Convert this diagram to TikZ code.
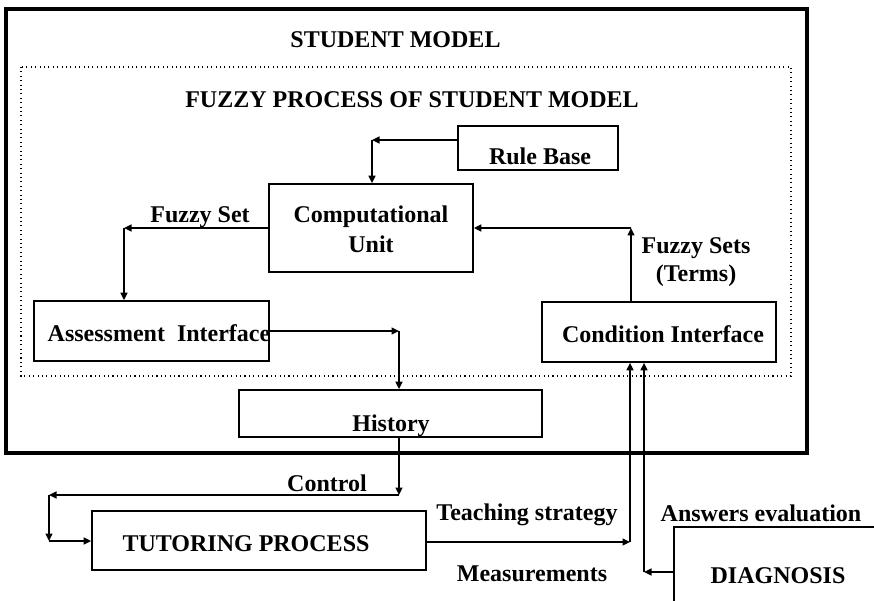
\documentclass[tikz,border=0pt]{standalone}
\usepackage{fontspec}
\setmainfont{Liberation Serif}
\usetikzlibrary{arrows.meta}
\begin{document}
\begin{tikzpicture}[x=1pt,y=-1pt,
  box/.style={draw, line width=1.8pt, inner sep=0pt},
  frame/.style={draw, line width=3.5pt},
  dotbox/.style={draw, line width=1.1pt, dash pattern=on 1.1pt off 3.3pt},
  lbl/.style={font=\fontsize{24}{28}\selectfont\bfseries, inner sep=0pt, anchor=base, align=center},
  arr/.style={line width=1.5pt, -{Triangle[length=7.5pt,width=7pt]}},
  ln/.style={line width=1.8pt}]
\useasboundingbox (0,0) rectangle (874,601);

% outer student model frame and the dotted fuzzy process region
\draw[frame] (6,9) rectangle (807,453);
\draw[dotbox] (21,67) rectangle (791,376);

% boxes
\node[box, minimum width=160pt, minimum height=44pt] (rb) at (538,148) {};
\node[box, minimum width=204pt, minimum height=88pt] (cu) at (371,228) {};
\node[box, minimum width=235pt, minimum height=60pt] (ai) at (151.5,331) {};
\node[box, minimum width=234pt, minimum height=60pt] (ci) at (659,332) {};
\node[box, minimum width=303pt, minimum height=47pt] (hi) at (390.5,413.5) {};
\node[box, minimum width=334pt, minimum height=59pt] (tp) at (259,540.5) {};
\coordinate (dgtl) at (674,527);
\draw[ln] (674,601) -- (dgtl) -- (874,527);

% texts
\node[lbl] (tsm) at (395.5,48) {STUDENT MODEL};
\node[lbl] (tfp) at (412,108) {FUZZY PROCESS OF STUDENT MODEL};
\node[lbl] (trb) at (540,165) {Rule Base};
\node[lbl] (tcu) at (371,253) {Computational\\[2pt]Unit};
\node[lbl] (tai) at (159,341) {Assessment\ \ Interface};
\node[lbl] (tci) at (663,342) {Condition Interface};
\node[lbl] (thi) at (391,431) {History};
\node[lbl] (ttp) at (246,551) {TUTORING PROCESS};
\node[lbl] (tdg) at (778,583) {DIAGNOSIS};
\node[lbl] (lfs) at (200,223) {Fuzzy Set};
\node[lbl] (lft) at (696,281) {Fuzzy Sets\\(Terms)};
\node[lbl] (lco) at (327,491) {Control};
\node[lbl] (lts) at (527,520) {Teaching strategy};
\node[lbl] (lae) at (761,521) {Answers evaluation};
\node[lbl] (lme) at (532,581) {Measurements};

% corner points of the connectors
\coordinate (k1) at (372,140);
\coordinate (k2) at (124,228);
\coordinate (k3) at (631,228);
\coordinate (k4) at (399,331);
\coordinate (k5) at (399,495);
\coordinate (k6) at (49,495);
\coordinate (k7) at (49,541);
\coordinate (k8) at (630,542);
\coordinate (k9) at (644,572);

% rule base -> computational unit
\draw[arr] (rb.west |- k1) -- (k1);
\draw[arr] (k1) -- (k1 |- cu.north);
% computational unit -> assessment interface
\draw[arr] (cu.west |- k2) -- (k2);
\draw[arr] (k2) -- (k2 |- ai.north);
% condition interface -> computational unit
\draw[arr] (k3 |- ci.north) -- (k3);
\draw[arr] (k3) -- (cu.east |- k3);
% assessment interface -> history
\draw[arr] (ai.east |- k4) -- (k4);
\draw[arr] (k4) -- (k4 |- hi.north);
% history -> tutoring process (control loop)
\draw[arr] (k5 |- hi.south) -- (k5);
\draw[arr] (k5) -- (k6);
\draw[arr] (k6) -- (k7);
\draw[arr] (k7) -- (tp.west |- k7);
% tutoring process -> condition interface
\draw[arr] (tp.east |- k8) -- (k8);
\draw[arr] (k8) -- (k8 |- ci.south);
% diagnosis -> condition interface
\draw[arr] (dgtl |- k9) -- (k9);
\draw[arr] (k9) -- (k9 |- ci.south);
\end{tikzpicture}
\end{document}
